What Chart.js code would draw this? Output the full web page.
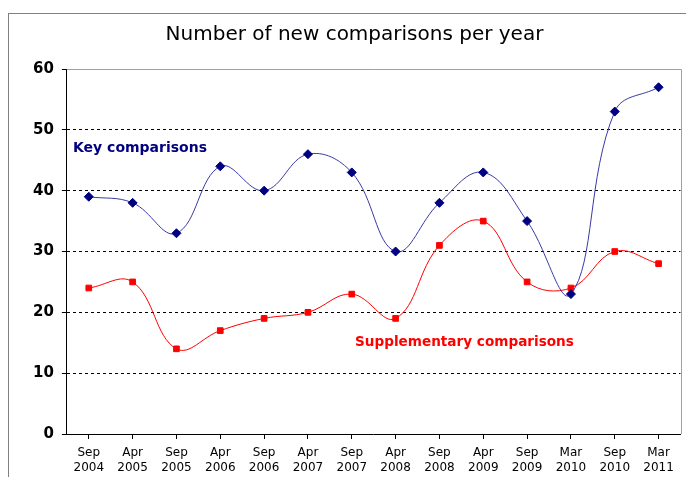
<!DOCTYPE html>
<html>
<head>
<meta charset="utf-8">
<script src="https://cdn.jsdelivr.net/npm/chart.js@4/dist/chart.umd.min.js"></script>
<style>
html, body { margin: 0; padding: 0; background: #fff; }
#wrap { width: 686px; height: 477px; }
</style>
</head>
<body>
<div id="wrap"><canvas id="chart"></canvas></div>
<script>
var periods = [
	['Sep', '2004'], ['Apr', '2005'], ['Sep', '2005'], ['Apr', '2006'], ['Sep', '2006'],
	['Apr', '2007'], ['Sep', '2007'], ['Apr', '2008'], ['Sep', '2008'], ['Apr', '2009'],
	['Sep', '2009'], ['Mar', '2010'], ['Sep', '2010'], ['Mar', '2011']
];
var keyComparisons = [39, 38, 33, 44, 40, 46, 43, 30, 38, 43, 35, 23, 53, 57];
var supplementaryComparisons = [24, 25, 14, 17, 19, 20, 23, 19, 31, 35, 25, 24, 30, 28];
var yMin = 0;
var yMax = 60;
var yStep = 10;

// grey outer frame, plot border and the two series captions
var decorations = {
	id: 'decorations',
	beforeDraw: function (chart) {
		var ctx = chart.ctx;
		ctx.save();
		ctx.fillStyle = '#fff';
		ctx.fillRect(0, 0, chart.width, chart.height);
		ctx.strokeStyle = '#808080';
		ctx.lineWidth = 1;
		ctx.strokeRect(8.5, 13.5, chart.width + 20, chart.height + 20);
		ctx.restore();
	},
	afterDatasetsDraw: function (chart) {
		var ctx = chart.ctx;
		var area = chart.chartArea;
		ctx.save();
		ctx.strokeStyle = '#a0a0a0';
		ctx.lineWidth = 1;
		ctx.beginPath();
		ctx.moveTo(area.left, Math.round(area.top) + 0.5);
		ctx.lineTo(Math.round(area.right) + 0.5, Math.round(area.top) + 0.5);
		ctx.lineTo(Math.round(area.right) + 0.5, area.bottom);
		ctx.stroke();

		ctx.font = 'bold 14px "DejaVu Sans"';
		ctx.textBaseline = 'middle';
		ctx.fillStyle = '#000080';
		ctx.fillText('Key comparisons', 73, 148);
		ctx.font = 'bold 13.6px "DejaVu Sans"';
		ctx.fillStyle = '#ff0000';
		ctx.fillText('Supplementary comparisons', 355, 342);
		ctx.restore();
	}
};

new Chart(document.getElementById('chart').getContext('2d'), {
	type: 'line',
	data: {
		labels: periods,
		datasets: [{
			label: 'Key comparisons',
			data: keyComparisons,
			borderColor: '#3a3aa8',
			borderWidth: 1,
			tension: 0.4,
			pointStyle: 'rectRot',
			pointRadius: 4.5,
			pointBackgroundColor: '#000080',
			pointBorderColor: '#000080',
			pointBorderWidth: 1
		}, {
			label: 'Supplementary comparisons',
			data: supplementaryComparisons,
			borderColor: '#ff0000',
			borderWidth: 1,
			tension: 0.4,
			pointStyle: 'rect',
			pointRadius: 4,
			pointBackgroundColor: '#ff0000',
			pointBorderColor: '#ff0000',
			pointBorderWidth: 1
		}]
	},
	options: {
		responsive: true,
		maintainAspectRatio: false,
		animation: false,
		layout: {
			padding: {left: 25, right: 2, top: 0, bottom: -4}
		},
		plugins: {
			legend: {display: false},
			tooltip: {enabled: false},
			title: {
				display: true,
				text: 'Number of new comparisons per year',
				color: '#000',
				font: {family: '"DejaVu Sans"', size: 20, weight: 'normal'},
				padding: {top: 23, bottom: 22}
			}
		},
		scales: {
			x: {
				offset: true,
				grid: {
					display: true,
					drawOnChartArea: false,
					drawTicks: true,
					tickLength: 5,
					tickColor: '#000'
				},
				border: {display: true, color: '#000', width: 1},
				ticks: {
					color: '#000',
					autoSkip: false,
					maxRotation: 0,
					padding: 6,
					font: {family: '"DejaVu Sans"', size: 12, lineHeight: 1.25}
				}
			},
			y: {
				min: yMin,
				max: yMax,
				grid: {
					color: function (c) {
						return (c.tick.value == yMin || c.tick.value == yMax) ? 'rgba(0,0,0,0)' : '#000';
					},
					tickColor: '#000',
					tickLength: 5,
					lineWidth: 1
				},
				border: {display: true, color: '#000', width: 1, dash: [3, 3]},
				ticks: {
					stepSize: yStep,
					color: '#000',
					padding: 8,
					font: {family: '"DejaVu Sans"', size: 15, weight: 'bold'}
				}
			}
		}
	},
	plugins: [decorations]
});
</script>
</body>
</html>
